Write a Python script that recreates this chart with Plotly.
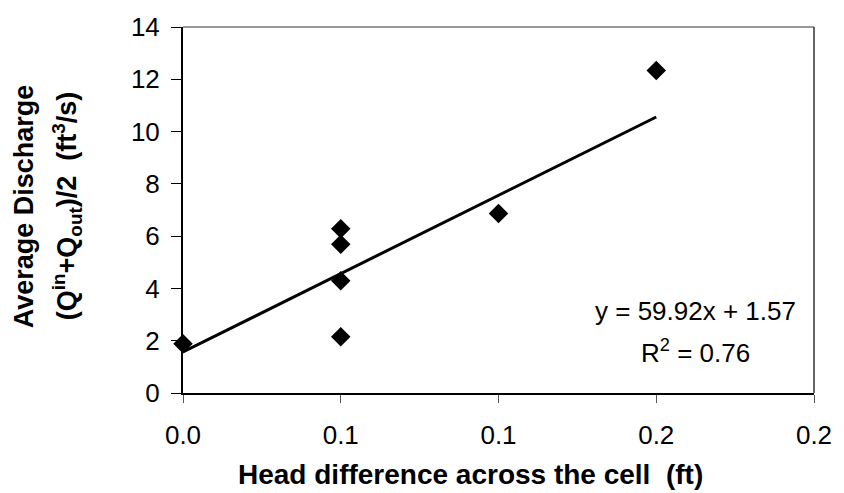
import plotly.graph_objects as go

head_diff = [0.0, 0.05, 0.05, 0.05, 0.05, 0.10, 0.15]
avg_discharge = [1.88, 6.28, 5.69, 4.29, 2.15, 6.87, 12.34]
fit_slope = 59.92
fit_intercept = 1.57
fit_r2 = 0.76
fit_x = [0.0, 0.15]
x_tick_vals = [0.0, 0.05, 0.10, 0.15, 0.20]
x_tick_text = ["0.0", "0.1", "0.1", "0.2", "0.2"]
y_tick_vals = [0, 2, 4, 6, 8, 10, 12, 14]

fit_y = [fit_slope * x + fit_intercept for x in fit_x]

fig = go.Figure()
fig.add_trace(go.Scatter(x=fit_x, y=fit_y, mode="lines",
                         line=dict(color="black", width=3), showlegend=False))
fig.add_trace(go.Scatter(x=head_diff, y=avg_discharge, mode="markers",
                         marker=dict(symbol="diamond", size=15, color="black"),
                         showlegend=False, cliponaxis=False))

font = "Liberation Sans, Arial, sans-serif"
fig.update_layout(
    width=844, height=493,
    margin=dict(l=183, r=22, t=22, b=100),
    paper_bgcolor="white", plot_bgcolor="white",
    font=dict(family=font, color="black", size=26),
    xaxis=dict(range=[0, 0.2], tickvals=x_tick_vals, ticktext=x_tick_text,
               ticks="outside", ticklen=8, tickcolor="#555555", tickwidth=1,
               showline=True, linecolor="black", linewidth=2, mirror=False,
               showgrid=False, zeroline=False, ticklabelstandoff=10,
               tickfont=dict(size=26, family=font)),
    yaxis=dict(range=[0, 14], tickvals=y_tick_vals,
               ticks="outside", ticklen=10, tickcolor="black", tickwidth=1,
               showline=True, linecolor="black", linewidth=2,
               showgrid=False, zeroline=False, ticklabelstandoff=6,
               tickfont=dict(size=26, family=font)),
    shapes=[
        dict(type="line", xref="paper", yref="paper", x0=0, x1=1, y0=1, y1=1,
             line=dict(color="#333333", width=1)),
        dict(type="line", xref="paper", yref="paper", x0=1, x1=1, y0=0, y1=1,
             line=dict(color="#333333", width=1.5)),
    ],
    annotations=[
        dict(text="<b>Head difference across the cell  (ft)</b>", xref="paper", yref="paper",
             x=0.456, y=-0.222, showarrow=False, font=dict(size=28, family=font),
             xanchor="center", yanchor="middle"),
        dict(text="<b>Average Discharge</b>", textangle=-90, xref="paper", yref="paper",
             x=-0.252, y=0.51, showarrow=False, font=dict(size=27, family=font),
             xanchor="center", yanchor="middle"),
        dict(text="<b>(Q<sup>in</sup>+Q<sub>out</sub>)/2  (ft<sup>3</sup>/s)</b>", textangle=-90,
             xref="paper", yref="paper",
             x=-0.184, y=0.51, showarrow=False, font=dict(size=27, family=font),
             xanchor="center", yanchor="middle"),
        dict(text=f"y = {fit_slope:.2f}x + {fit_intercept:.2f}", xref="paper", yref="paper",
             x=0.812, y=0.2237, showarrow=False, font=dict(size=26, family=font),
             xanchor="center", yanchor="middle"),
        dict(text=f"R<sup>2</sup> = {fit_r2:.2f}", xref="paper", yref="paper",
             x=0.812, y=0.113, showarrow=False, font=dict(size=26, family=font),
             xanchor="center", yanchor="middle"),
    ],
)

fig.write_html("out.html", config={"displayModeBar": False},
               post_script="document.body.style.margin='0';document.body.style.padding='0';"
                           "document.body.style.overflow='hidden';"
                           "document.documentElement.style.overflow='hidden';")
